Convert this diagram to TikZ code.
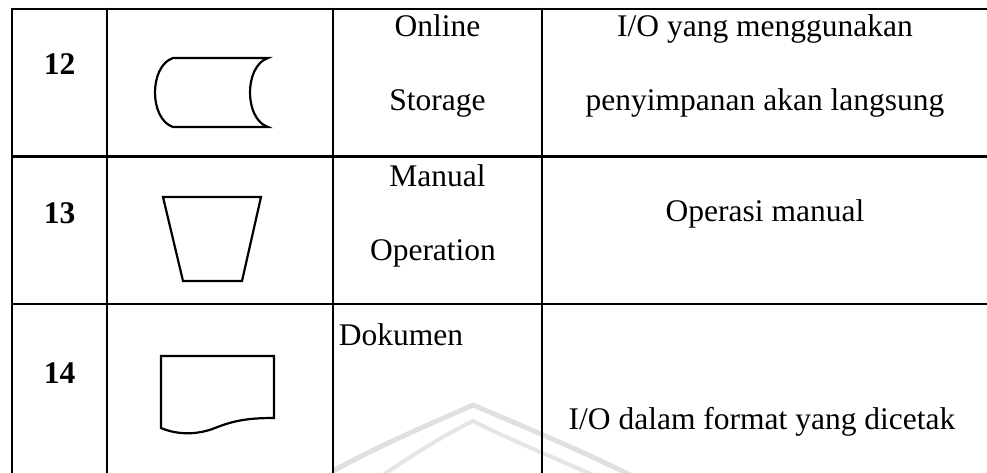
\documentclass[tikz,border=0pt]{standalone}
\usepackage{fontspec}
\setmainfont{Liberation Serif}
\begin{document}
\begin{tikzpicture}[x=1pt,y=-1pt,
  rule/.style={line width=2.8pt},
  sym/.style={line width=2.2pt, line join=miter},
  cell/.style={font=\fontsize{31.5}{36}\selectfont, anchor=base, inner sep=0pt},
  num/.style={cell, font=\fontsize{31.5}{36}\selectfont\bfseries},
  emblem/.style={draw=black!12, line width=5pt, line cap=butt}]
\useasboundingbox (0,0) rectangle (987,473);

% faint emblem watermark behind the last row
\draw[emblem] (333,471) .. controls (390,440) and (440,420) .. (473,405)
            .. controls (520,425) and (580,450) .. (630,475);
\draw[emblem, draw=black!10, line width=4pt] (383,475) .. controls (420,450) and (450,432) .. (473,421)
            .. controls (510,440) and (560,460) .. (595,476);

% table rules
\draw[rule] (12,9) -- (987,9);
\draw[rule] (12,156.5) -- (987,156.5);
\draw[rule] (12,304) -- (987,304);
\foreach \x in {12,107,333,542} \draw[rule] (\x,7.6) -- (\x,473);

% row 12: online storage
\node[num] (n12) at (59.5,75) {12};
\draw[sym] (173,58) -- (268,58)
  .. controls (244,66) and (244,119) .. (268,127) -- (173,127)
  .. controls (149,119) and (149,66) .. (173,58) -- cycle;
\node[cell] (t12a) at (437.5,37) {Online};
\node[cell] (t12b) at (437.5,111) {Storage};
\node[cell] (d12a) at (765,37) {I/O yang menggunakan};
\node[cell] (d12b) at (765,111) {penyimpanan akan langsung};

% row 13: manual operation
\node[num] (n13) at (59.5,223) {13};
\draw[sym] (163,197) -- (261,197) -- (242,281) -- (183,281) -- cycle;
\node[cell] (t13a) at (437.5,186) {Manual};
\node[cell] (t13b) at (433,260) {Operation};
\node[cell] (d13) at (765,222) {Operasi manual};

% row 14: document
\node[num] (n14) at (59.5,383) {14};
\draw[sym] (161,356) -- (274,356) -- (274,418)
  .. controls (250,418) and (235,420) .. (215,428)
  .. controls (200,434) and (180,436) .. (161,428) -- cycle;
\node[cell] (t14) at (401,345) {Dokumen};
\node[cell] (d14) at (762,429) {I/O dalam format yang dicetak};
\end{tikzpicture}
\end{document}
